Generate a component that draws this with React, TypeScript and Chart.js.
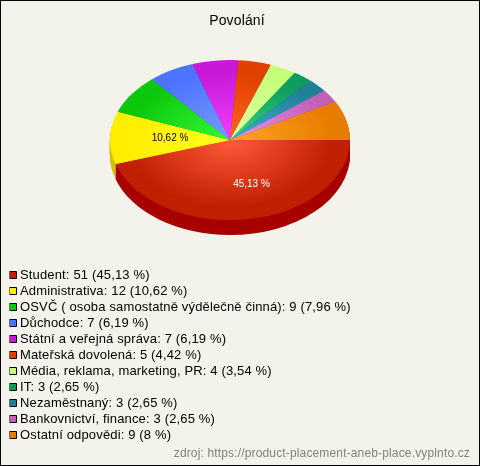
import React, { useEffect, useRef } from "react";
import { Chart, registerables } from "chart.js";

Chart.register(...registerables);

const titleText = "Povolání";
const sourceText = "zdroj: https://product-placement-aneb-place.vyplnto.cz";
const categories = [
  "Student",
  "Administrativa",
  "OSVČ ( osoba samostatně výdělečně činná)",
  "Důchodce",
  "Státní a veřejná správa",
  "Mateřská dovolená",
  "Média, reklama, marketing, PR",
  "IT",
  "Nezaměstnaný",
  "Bankovnictví, finance",
  "Ostatní odpovědi",
];
const values = [51, 12, 9, 7, 7, 5, 4, 3, 3, 3, 9];
const percents = ["45,13", "10,62", "7,96", "6,19", "6,19", "4,42", "3,54", "2,65", "2,65", "2,65", "8"];
const baseColors = ["#c02000", "#ffee00", "#0cc80c", "#4c74ff", "#c818d8", "#e04000", "#c4ff7c", "#0c9c5c", "#208098", "#c060b8", "#e87c00"];
const lightColors = ["#ff5a3c", "#ffff20", "#34fa34", "#7a9cff", "#f440ff", "#ff6424", "#e4ffa0", "#38d488", "#44aeca", "#ec94f0", "#ffa428"];
const sideColors = ["#a80000", "#d8c000", "#0a9c0a", "#3050c0", "#9810a8", "#b03000", "#98c860", "#087848", "#186078", "#904890", "#b86000"];

const CX = 230;
const CY = 140;
const SQUASH = 2 / 3;
const DEPTH = 15;
const RADIUS = 120;

const applyEllipse = (ctx: CanvasRenderingContext2D, arc: any) => {
  ctx.translate(CX, CY);
  ctx.scale(1, SQUASH);
  ctx.translate(-arc.x, -arc.y);
};

const pie3d = {
  id: "pie3d",
  beforeDraw(chart: any) {
    const { ctx, width, height } = chart;
    ctx.save();
    ctx.fillStyle = "#f4f3eb";
    ctx.fillRect(0, 0, width, height);
    ctx.strokeStyle = "#000000";
    ctx.lineWidth = 1;
    ctx.strokeRect(0.5, 0.5, width - 1, height - 1);
    ctx.restore();
    ctx.letterSpacing = "0.15px";
  },
  afterLayout(chart: any) {
    const legend = chart.legend;
    if (legend) {
      legend.left = 9.5;
      legend.top = 265.5;
      legend.right = 480;
      legend.bottom = 466;
      legend.width = 470.5;
      legend.height = 200.5;
    }
    if (chart.titleBlock) {
      chart.titleBlock.left += 2;
      chart.titleBlock.right += 2;
    }
  },
  beforeDatasetsDraw(chart: any) {
    const { ctx } = chart;
    ctx.letterSpacing = "0px";
    const arcs = chart.getDatasetMeta(0).data;
    for (let d = DEPTH; d >= 1; d--) {
      arcs.forEach((arc: any, i: number) => {
        ctx.save();
        ctx.translate(0, d);
        applyEllipse(ctx, arc);
        ctx.fillStyle = sideColors[i];
        ctx.beginPath();
        ctx.moveTo(arc.x, arc.y);
        ctx.arc(arc.x, arc.y, arc.outerRadius, arc.startAngle, arc.endAngle);
        ctx.closePath();
        ctx.fill();
        ctx.restore();
      });
    }
    ctx.save();
    applyEllipse(ctx, arcs[0]);
  },
  afterDatasetsDraw(chart: any) {
    const { ctx } = chart;
    ctx.restore();
    const arcs = chart.getDatasetMeta(0).data;
    ctx.save();
    ctx.font = '10px "Liberation Sans"';
    ctx.textAlign = "center";
    ctx.textBaseline = "middle";
    arcs.forEach((arc: any, i: number) => {
      const share = parseFloat(percents[i].replace(",", "."));
      if (share < 10) return;
      const mid = (arc.startAngle + arc.endAngle) / 2;
      const r = arc.outerRadius * (i === 0 ? 0.52 : 0.5);
      const shift = i === 0 ? 12 : 0;
      const x = CX + Math.cos(mid) * r + shift;
      const y = CY + Math.sin(mid) * r * SQUASH + (i === 0 ? 3.5 : -0.5);
      ctx.fillStyle = i === 0 ? "#ffffff" : "#000000";
      ctx.fillText(`${percents[i]} %`, x, y);
    });
    ctx.restore();
  },
};

export default function App() {
  const ref = useRef<HTMLCanvasElement | null>(null);

  useEffect(() => {
    document.body.style.margin = "0";
    const chart = new Chart(ref.current!, {
      type: "pie",
      data: {
        labels: categories,
        datasets: [
          {
            data: values,
            borderWidth: 0,
            clip: false,
            backgroundColor: (c: any) => {
              const area = c.chart.chartArea;
              if (!area) return baseColors[c.dataIndex];
              const x = (area.left + area.right) / 2;
              const y = (area.top + area.bottom) / 2;
              const g = c.chart.ctx.createRadialGradient(x, y, 0, x, y, RADIUS);
              g.addColorStop(0, lightColors[c.dataIndex]);
              g.addColorStop(0.85, baseColors[c.dataIndex]);
              g.addColorStop(1, baseColors[c.dataIndex]);
              return g;
            },
          } as any,
        ],
      },
      options: {
        responsive: false,
        animation: false,
        events: [],
        rotation: 90,
        radius: RADIUS,
        layout: { padding: { left: 0, right: 10, top: 0, bottom: 0 } },
        plugins: {
          tooltip: { enabled: false },
          title: {
            display: true,
            text: titleText,
            color: "#000000",
            font: { family: '"Liberation Sans"', size: 14, weight: "normal" },
            padding: { top: 13, bottom: 10 },
          },
          subtitle: {
            display: true,
            text: sourceText,
            position: "bottom",
            align: "end",
            color: "#808080",
            font: { family: '"Liberation Sans"', size: 12, weight: "normal" },
            padding: { top: 4, bottom: 5 },
          },
          legend: {
            display: true,
            position: "left",
            align: "start",
            maxWidth: 10,
            labels: {
              usePointStyle: true,
              pointStyle: "rect",
              boxWidth: 1,
              boxHeight: 7,
              padding: 3,
              color: "#000000",
              font: { family: '"Liberation Sans"', size: 13 },
              generateLabels: () =>
                categories.map((name, i) => ({
                  text: `${name}: ${values[i]} (${percents[i]} %)`,
                  fillStyle: baseColors[i],
                  strokeStyle: "#000000",
                  pointStyle: "rect",
                  lineWidth: 1,
                  hidden: false,
                  index: i,
                })),
            },
          },
        },
      } as any,
      plugins: [pie3d],
    });
    return () => chart.destroy();
  }, []);

  return <canvas ref={ref} width={480} height={466} style={{ display: "block", width: 480, height: 466 }} />;
}
